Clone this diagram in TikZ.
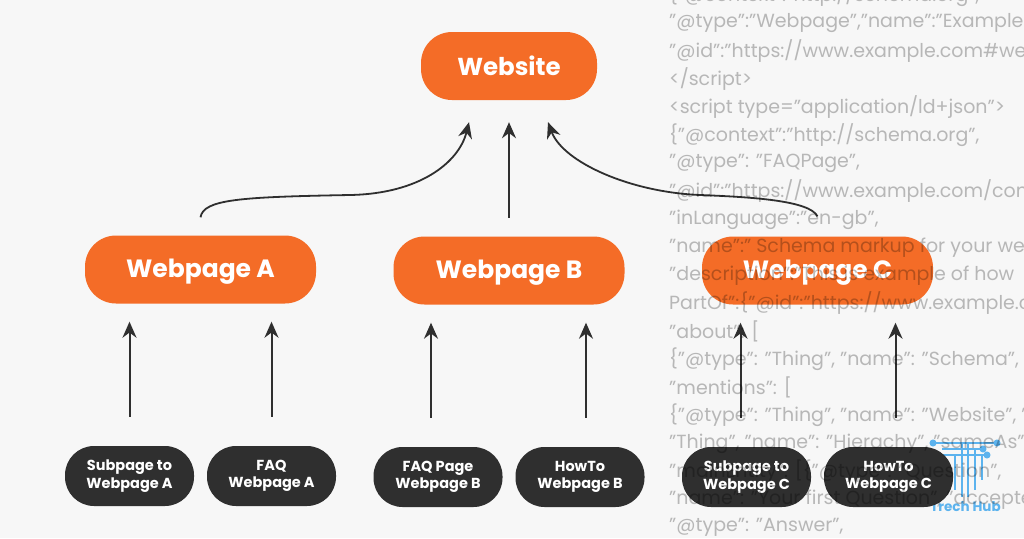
\documentclass[tikz,border=0pt]{standalone}
\usepackage{fontspec}
\usepackage{xcolor}
\setmainfont{Poppins}
\usetikzlibrary{arrows.meta}
\definecolor{orangebox}{HTML}{F46C27}
\definecolor{darkbox}{HTML}{2F2F2F}
\definecolor{paper}{HTML}{F7F7F7}
\definecolor{codegray}{HTML}{BDBDBD}
\definecolor{logoblue}{HTML}{5CB3EE}
\begin{document}
\begin{tikzpicture}[x=1pt,y=1pt]
                \tikzstyle{orange node}=[draw=none,fill=orangebox,text=white,rounded corners=31pt,minimum height=68pt,font=\fontsize{25}{28}\selectfont\bfseries]
                \tikzstyle{page node}=[orange node,minimum width=231pt,text height=19.5pt,text depth=4pt]
                \tikzstyle{dark node}=[fill=darkbox,text=white,rounded corners=29pt,minimum height=60pt,minimum width=129pt,inner sep=0pt,align=center,font=\fontsize{14.5}{17.5}\selectfont\bfseries]
                \tikzstyle{up line}=[color=darkbox,line width=2pt,-{Stealth[length=16pt,width=14pt]}]
                \tikzstyle{logo line}=[color=logoblue,line width=2.2pt]
                \tikzstyle{logo dot}=[circle,fill=logoblue,inner sep=2.5pt]
                \tikzstyle{code line}=[anchor=west,inner sep=0pt,text=codegray,font=\fontsize{19}{22}\selectfont]
                \tikzstyle{level 1}=[level distance=204.5pt,sibling distance=308.5pt]
                \tikzstyle{level 2}=[level distance=206.5pt,sibling distance=142pt]
                \useasboundingbox (0,0) rectangle (1024,-538);
                \fill[paper] (0,0) rectangle (1024,-538);
                % logo
                \draw[logo line] (933,-443) -- (997,-443) (942,-449) -- (983,-449) (940,-455) -- (987,-455);
                \foreach \logox/\logotop/\logoy in {955/455/490,962/443/497,968/443/497,975/449/490,982/455/480}
                    \draw[logo line] (\logox,-\logotop) -- (\logox,-\logoy);
                \node[logo dot] (dot1) at (933,-443) {};
                \node[logo dot] (dot2) at (997,-443) {};
                \node[logo dot] (dot3) at (983,-449) {};
                \node[logo dot] (dot4) at (987,-455) {};
                \node[text=logoblue,inner sep=0pt,font=\fontsize{13.5}{16}\selectfont\bfseries] (logo) at (965.5,-507) {Trech Hub};
                % tree
                \node(website)[orange node,minimum width=176pt,font=\fontsize{24.5}{28}\selectfont\bfseries] at (509,-66) {Website}
                [edge from parent/.style={draw=none}]
                child{node(weba)[page node,yshift=1pt]{Webpage A}
                child{node(suba)[dark node]{Subpage to\\Webpage A}}
                child{node(faqa)[dark node]{FAQ\\Webpage A}}
                }
                child{node(webb)[page node]{Webpage B}
                child{node(faqb)[dark node]{FAQ Page\\Webpage B}}
                child{node(howb)[dark node]{HowTo\\Webpage B}}
                }
                child{node(webc)[page node]{Webpage C}
                child{node(subc)[dark node]{Subpage to\\Webpage C}}
                child{node(howc)[dark node]{HowTo\\Webpage C}}
                };
                % arrows
                \draw[up line,line width=1.8pt] ([yshift=18pt]weba.north) .. controls +(3,18) and +(-110,-2) .. (350,-195) .. controls +(70,1.3) and +(-10,-40) .. ([xshift=-40pt,yshift=-22pt]website.south);
                \draw[up line,shorten <=18.5pt,shorten >=22pt] (webb.north) -- (webb.north |- website.south);
                \draw[up line,line width=1.8pt] ([yshift=20pt]webc.north) .. controls +(-8,16) and +(50,-2) .. (700,-195) .. controls +(-70,2.8) and +(15,-40) .. ([xshift=39pt,yshift=-22pt]website.south);
                \foreach \lowernode/\uppernode/\shiftx in {suba/weba/0,faqa/weba/0,faqb/webb/-7,howb/webb/6,subc/webc/-6,howc/webc/7}
                    \draw[up line,shorten <=29pt,shorten >=18pt] ([xshift=\shiftx pt]\lowernode.north) -- ([xshift=\shiftx pt]\lowernode.north |- \uppernode.south);
                % code behind
                \begin{scope}[blend mode=multiply]
                \foreach \codeline [count=\codeno from 0] in {
                    {\{"@context":"http://schema.org",},
                    {"@type":"Webpage","name":"Example},
                    {"@id":"https://www.example.com\#we},
                    {</script>},
                    {<script type="application/ld+json">},
                    {\{"@context":"http://schema.org",},
                    {"@type": "FAQPage",},
                    {"@id":"https://www.example.com/cont},
                    {"inLanguage":"en-gb",},
                    {"name":" Schema markup for your we},
                    {"description":"This is example of how},
                    {PartOf":\{"@id":"https://www.example.c},
                    {"about": [},
                    {\{"@type": "Thing", "name": "Schema", "},
                    {"mentions": [},
                    {\{"@type": "Thing", "name": "Website", "},
                    {"Thing", "name": "Hierachy", "sameAs"},
                    {"mainEntity": [\{"@type": "Question",},
                    {"name": "Your first Question", "accepte},
                    {"@type": "Answer",}}
                    \node[code line] (code\codeno) at (669,4.5+28*-\codeno) {\codeline};
                \end{scope}
            \end{tikzpicture}
\end{document}
